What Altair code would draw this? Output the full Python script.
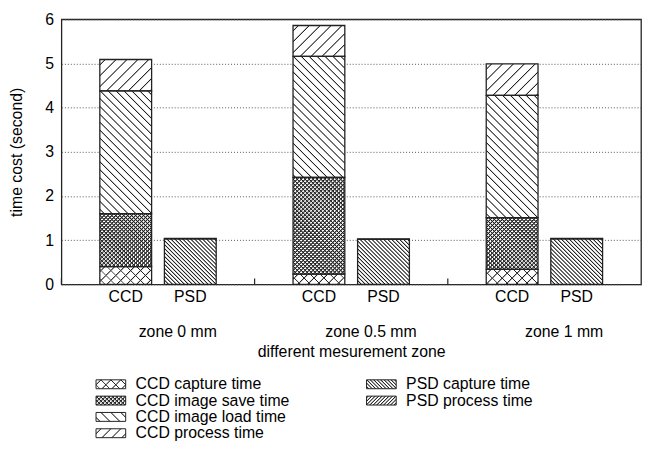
import altair as alt

# ---------------- data ----------------
zones = ["zone 0 mm", "zone 0.5 mm", "zone 1 mm"]
instruments = ["CCD", "PSD"]
categories = ["CCD capture time", "CCD image save time", "CCD image load time",
              "CCD process time", "PSD capture time", "PSD process time"]
ccd_capture = [0.40, 0.23, 0.34]
ccd_save = [1.20, 2.19, 1.17]
ccd_load = [2.78, 2.74, 2.77]
ccd_process = [0.71, 0.70, 0.71]
psd_capture = [1.03, 1.02, 1.03]
psd_process = [0.01, 0.01, 0.01]

# ---------------- style / layout ----------------
W, H = 586, 268
YMAX = 6
PAD_IN, PAD_OUT = 0.198, 0.595
FONT = "Liberation Sans"
FS = 16
INK = "#222222"
SW, SH = 30, 9  # legend swatch size

# hatch style per category: (directions, horizontal period px, line width px)
hatch = {
    "CCD capture time": (["/", "\\"], 10, 1.3),
    "CCD image save time": (["/", "\\"], 4, 1.7),
    "CCD image load time": (["\\"], 8, 1.3),
    "CCD process time": (["/"], 11, 1.3),
    "PSD capture time": (["\\"], 4, 1.4),
    "PSD process time": (["/"], 4, 1.4),
}
legend_hatch = {
    "CCD capture time": (["/", "\\"], 10, 1.2),
    "CCD image save time": (["/", "\\"], 4, 1.6),
    "CCD image load time": (["\\"], 10, 1.2),
    "CCD process time": (["/"], 10, 1.2),
    "PSD capture time": (["\\"], 3.5, 1.3),
    "PSD process time": (["/"], 3.5, 1.3),
}

WHITE = "#ffffff"
CLEAR = "rgba(255,255,255,0)"


def stripes(w, h, direction, period, lw, ink, bg):
    L = w + h
    k = (w + h) / (w * w + h * h)
    if direction == "/":
        x1, y1, x2, y2 = 0, 0, w * k, h * k
    else:
        x1, y1, x2, y2 = 1, 0, 1 - w * k, h * k
    h1 = lw / 2 + 0.5          # soft edges (1px ramp) to avoid aliasing
    h0 = max(lw / 2 - 0.5, 0)
    stops = [(0.0, bg)]
    i = 0
    while True:
        c = period * (i + 0.5)
        pts = [(c - h1, bg), (c - h0, ink), (c + h0, ink), (c + h1, bg)]
        if pts[0][0] / L >= 1:
            break
        for p, col in pts:
            o = min(max(p / L, 0.0), 1.0)
            if o >= stops[-1][0]:
                stops.append((o, col))
        i += 1
    stops.append((1.0, bg))
    return {"gradient": "linear", "x1": x1, "y1": y1, "x2": x2, "y2": y2,
            "stops": [{"offset": round(o, 5), "color": col} for o, col in stops]}


def fills(cat, w, h, table):
    dirs, period, lw = table[cat]
    g1 = stripes(w, h, dirs[0], period, lw, INK, WHITE)
    g2 = stripes(w, h, dirs[1], period, lw, INK, CLEAR) if len(dirs) > 1 else CLEAR
    return g1, g2


zone_band = W / len(zones)
step = zone_band / (len(instruments) - PAD_IN + 2 * PAD_OUT)
bar_w = step * (1 - PAD_IN)
px_per_unit = H / YMAX

series = {
    ("CCD", "CCD capture time"): ccd_capture,
    ("CCD", "CCD image save time"): ccd_save,
    ("CCD", "CCD image load time"): ccd_load,
    ("CCD", "CCD process time"): ccd_process,
    ("PSD", "PSD capture time"): psd_capture,
    ("PSD", "PSD process time"): psd_process,
}

records = []
for zi, z in enumerate(zones):
    base = {"CCD": 0.0, "PSD": 0.0}
    for (inst, cat), vals in series.items():
        v = vals[zi]
        y0 = base[inst]
        y1 = y0 + v
        base[inst] = y1
        g1, g2 = fills(cat, bar_w, max(v * px_per_unit, 0.5), hatch)
        records.append({"zone": z, "inst": inst, "cat": cat, "y0": y0, "y1": y1,
                        "g1": g1, "g2": g2})

seg = alt.Data(values=records)
lab = alt.Data(values=[{"zone": z, "inst": i} for z in zones for i in instruments])

xenc = alt.X("zone:N", sort=zones,
             scale=alt.Scale(domain=zones, paddingInner=0, paddingOuter=0),
             axis=alt.Axis(title="different mesurement zone", labelAngle=0,
                           labelPadding=40, labelOffset=20, ticks=False,
                           domain=False, titlePadding=4))
xoff = alt.XOffset("inst:N", scale=alt.Scale(domain=instruments,
                                              paddingInner=PAD_IN,
                                              paddingOuter=PAD_OUT))
yenc = alt.Y("y0:Q", scale=alt.Scale(domain=[0, YMAX], nice=False),
             axis=alt.Axis(title="time cost (second)", values=list(range(0, 7)),
                           grid=True, gridDash=[1, 2], gridColor="#555555",
                           ticks=False, domain=False, labelPadding=8,
                           titlePadding=20))

bars1 = alt.Chart(seg).mark_bar().encode(
    x=xenc, xOffset=xoff, y=yenc, y2="y1:Q",
    fill=alt.Fill("g1:N", scale=None))
bars2 = alt.Chart(seg).mark_bar(stroke=INK, strokeWidth=1.3).encode(
    x="zone:N", xOffset="inst:N", y="y0:Q", y2="y1:Q",
    fill=alt.Fill("g2:N", scale=None))
ticks = alt.Chart(alt.Data(values=[{"zone": z} for z in zones])).mark_rule(
    color=INK, strokeWidth=1.2).encode(
    x=alt.X("zone:N", bandPosition=0),
    y=alt.value(H), y2=alt.value(H - 6))
inst_text = alt.Chart(lab).mark_text(font=FONT, fontSize=FS, baseline="middle",
                                     color="black").encode(
    x="zone:N", xOffset="inst:N", y=alt.value(H + 13), text="inst:N")

main = alt.layer(bars1, bars2, ticks, inst_text).properties(
    width=W, height=H,
    view=alt.ViewBackground(stroke=INK, strokeWidth=1.3))

# ---------------- legend ----------------
leg_records = []
for i, cat in enumerate(categories):
    col = 0 if i < 4 else 1
    row = i if i < 4 else i - 4
    g1, g2 = fills(cat, SW, SH, legend_hatch)
    leg_records.append({"cat": cat, "col": col, "row": row, "g1": g1, "g2": g2})
ld = alt.Data(values=leg_records)

lx = alt.X("col:Q", scale=alt.Scale(domain=[0, 1], range=[50, 323.5]), axis=None)
ly = alt.Y("row:Q", scale=alt.Scale(domain=[0, 3], range=[15, 64.5]), axis=None)
sw1 = alt.Chart(ld).mark_rect(width=SW, height=SH).encode(
    x=lx, y=ly, fill=alt.Fill("g1:N", scale=None))
sw2 = alt.Chart(ld).mark_rect(width=SW, height=SH, stroke=INK, strokeWidth=1).encode(
    x="col:Q", y="row:Q", fill=alt.Fill("g2:N", scale=None))
sw_text = alt.Chart(ld).mark_text(font=FONT, fontSize=FS, align="left",
                                  baseline="middle", dx=SW / 2 + 10,
                                  color="black").encode(
    x="col:Q", y="row:Q", text="cat:N")
legend = alt.layer(sw1, sw2, sw_text).properties(
    width=W, height=75, view=alt.ViewBackground(stroke="transparent"))

chart = alt.vconcat(main, legend, spacing=8).properties(
    padding={"left": 0, "top": 0, "right": 0, "bottom": 0}
).configure_axis(
    labelFont=FONT, titleFont=FONT, labelFontSize=FS, titleFontSize=FS,
    titleFontWeight="normal", labelColor="black", titleColor="black"
)

chart.save("out.html", embed_options={"renderer": "svg", "actions": False})
